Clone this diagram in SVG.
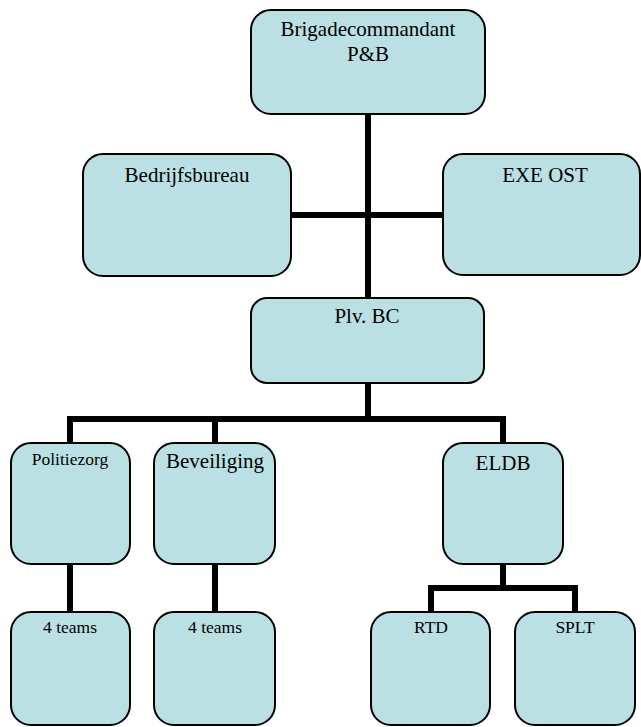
<svg xmlns="http://www.w3.org/2000/svg" width="641" height="727" viewBox="0 0 641 727">
<style>
.box{fill:#bae0e4;stroke:#000;stroke-width:2}
text{font-family:'Liberation Serif','Times New Roman',Times,serif;fill:#000;text-anchor:middle}
.big{font-size:21px}
.sm{font-size:17.5px}
.con{fill:none;stroke:#000;stroke-width:6}
</style>
<rect width="641" height="727" fill="#fff"/>
<g id="connectors">
<path class="con" d="M368,114 V298"/>
<path class="con" d="M291,215 H443"/>
<path class="con" d="M368,383 V419"/>
<path class="con" d="M70,443 V419 H503 V443"/>
<path class="con" d="M215,419 V443"/>
<path class="con" d="M70,564 V612"/>
<path class="con" d="M215,564 V612"/>
<path class="con" d="M503,564 V588"/>
<path class="con" d="M431,612 V588 H575 V612"/>
</g>
<g font-family="Liberation Serif, serif">
<g id="brigadecommandant">
<rect class="box" x="251" y="10" width="234" height="104" rx="20"/>
<text class="big" x="368" y="36">Brigadecommandant</text>
<text class="big" x="368" y="61">P&amp;B</text>
</g>
<g id="bedrijfsbureau">
<rect class="box" x="83" y="154" width="208" height="122" rx="20"/>
<text class="big" x="187" y="182">Bedrijfsbureau</text>
</g>
<g id="exe-ost">
<rect class="box" x="443" y="154" width="197" height="121" rx="20"/>
<text class="big" x="545" y="182">EXE OST</text>
</g>
<g id="plv-bc">
<rect class="box" x="251" y="298" width="233" height="85" rx="16"/>
<text class="big" x="367" y="323">Plv. BC</text>
</g>
<g id="politiezorg">
<rect class="box" x="11" y="443" width="119" height="121" rx="20"/>
<text class="sm" x="70" y="465">Politiezorg</text>
</g>
<g id="beveiliging">
<rect class="box" x="154" y="443" width="121" height="121" rx="20"/>
<text class="big" x="215" y="468">Beveiliging</text>
</g>
<g id="eldb">
<rect class="box" x="443" y="443" width="120" height="121" rx="20"/>
<text class="big" x="503" y="470">ELDB</text>
</g>
<g id="teams1">
<rect class="box" x="11" y="612" width="119" height="113" rx="20"/>
<text class="sm" x="70" y="633">4 teams</text>
</g>
<g id="teams2">
<rect class="box" x="154" y="612" width="121" height="113" rx="20"/>
<text class="sm" x="215" y="633">4 teams</text>
</g>
<g id="rtd">
<rect class="box" x="371" y="612" width="119" height="113" rx="20"/>
<text class="sm" x="431" y="633">RTD</text>
</g>
<g id="splt">
<rect class="box" x="515" y="612" width="120" height="113" rx="20"/>
<text class="sm" x="575" y="633">SPLT</text>
</g>
</g>
</svg>
